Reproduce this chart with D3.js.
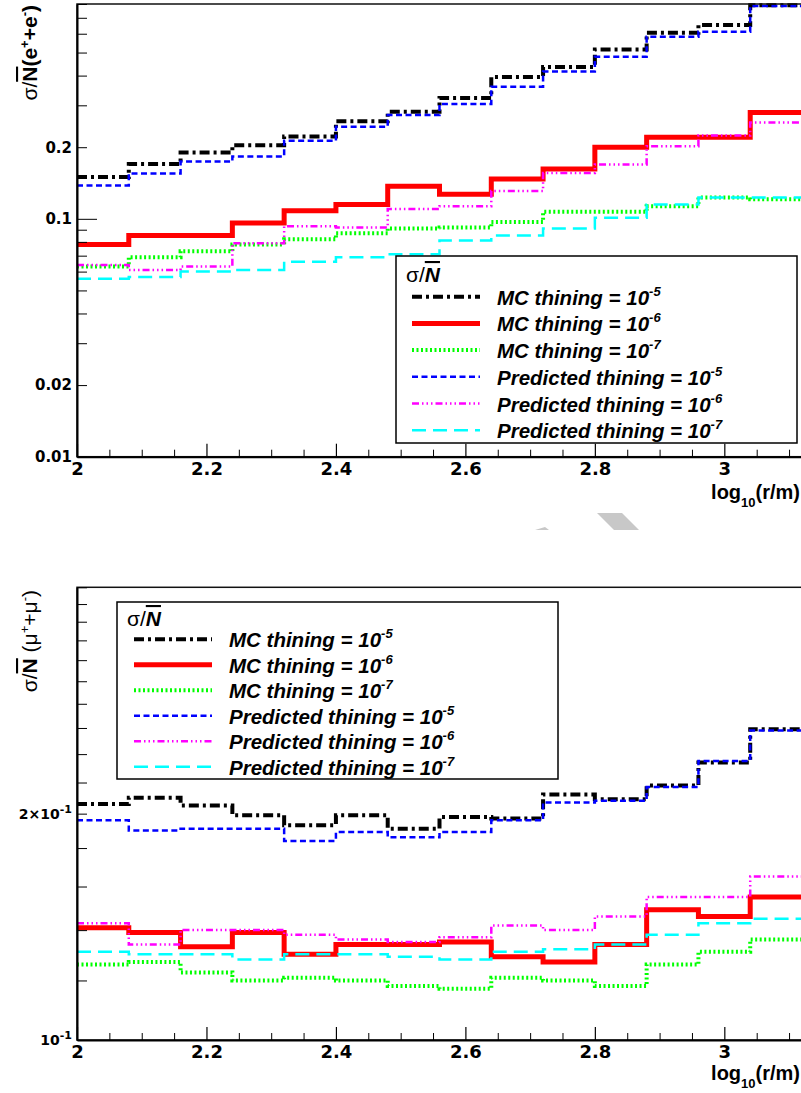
<!DOCTYPE html>
<html>
<head>
<meta charset="utf-8">
<script src="https://cdn.jsdelivr.net/npm/d3@7"></script>
<style>
body { margin: 0; background: #fff; }
svg { display: block; font-family: "Liberation Sans", Arial, Helvetica, sans-serif; }
</style>
</head>
<body>
<svg id="chart" width="801" height="1093"></svg>
<script>
// bin edges in log10(r/m)
const binEdges = [2, 2.08, 2.16, 2.24, 2.32, 2.4, 2.48, 2.56, 2.64, 2.72, 2.8, 2.88, 2.96, 3.04, 3.12];

// sigma/N for e+e- (top panel)
const eMC5   = [0.150, 0.170, 0.190, 0.204, 0.222, 0.257, 0.282, 0.322, 0.395, 0.435, 0.515, 0.605, 0.653, 0.790];
const eMC6   = [0.078, 0.085, 0.085, 0.096, 0.108, 0.115, 0.137, 0.127, 0.147, 0.162, 0.200, 0.220, 0.220, 0.280];
const eMC7   = [0.063, 0.069, 0.073, 0.078, 0.082, 0.087, 0.091, 0.092, 0.097, 0.107, 0.107, 0.113, 0.123, 0.121];
const ePred5 = [0.138, 0.155, 0.174, 0.183, 0.213, 0.244, 0.273, 0.304, 0.359, 0.416, 0.480, 0.582, 0.611, 0.785];
const ePred6 = [0.064, 0.061, 0.063, 0.079, 0.093, 0.092, 0.110, 0.113, 0.131, 0.156, 0.169, 0.202, 0.224, 0.254];
const ePred7 = [0.056, 0.057, 0.060, 0.061, 0.066, 0.069, 0.071, 0.081, 0.085, 0.091, 0.101, 0.115, 0.123, 0.123];

// sigma/N for mu+mu- (bottom panel)
const muMC5   = [0.206, 0.210, 0.205, 0.199, 0.193, 0.199, 0.191, 0.198, 0.197, 0.212, 0.209, 0.218, 0.234, 0.259];
const muMC6   = [0.141, 0.139, 0.133, 0.139, 0.130, 0.134, 0.134, 0.135, 0.129, 0.127, 0.134, 0.149, 0.146, 0.155];
const muMC7   = [0.126, 0.127, 0.123, 0.120, 0.121, 0.120, 0.118, 0.117, 0.121, 0.120, 0.118, 0.126, 0.131, 0.136];
const muPred5 = [0.196, 0.190, 0.191, 0.191, 0.184, 0.189, 0.186, 0.189, 0.196, 0.207, 0.208, 0.217, 0.235, 0.258];
const muPred6 = [0.143, 0.134, 0.140, 0.140, 0.138, 0.136, 0.135, 0.137, 0.142, 0.140, 0.146, 0.155, 0.155, 0.165];
const muPred7 = [0.131, 0.130, 0.130, 0.128, 0.130, 0.130, 0.129, 0.128, 0.131, 0.132, 0.134, 0.138, 0.143, 0.145];

const legendNames = ["MC thining = 10", "MC thining = 10", "MC thining = 10",
	"Predicted thining = 10", "Predicted thining = 10", "Predicted thining = 10"];
const legendExps = ["-5", "-6", "-7", "-5", "-6", "-7"];

const xTicks = [2, 2.2, 2.4, 2.6, 2.8, 3];
const eYTicks = [0.01, 0.02, 0.1, 0.2];
const muYTicks = [0.1, 0.2];
const muYTickBase = ["10", "2\u00d710"];

const styles = [
	{ color: "#000000", width: 4, dash: "10,4,3,4" },
	{ color: "#ff0000", width: 5, dash: null },
	{ color: "#00ff00", width: 4, dash: "2,2.5" },
	{ color: "#0000ff", width: 2.5, dash: "6,3.5" },
	{ color: "#ff00ff", width: 2.5, dash: "7,3,1.5,3,1.5,3,1.5,3" },
	{ color: "#00ffff", width: 2.5, dash: "14,7" },
];

const svg = d3.select("#chart");
const tickFont = "'DejaVu Sans', Verdana, sans-serif";

const x = d3.scaleLinear().domain([2, 3.12]).range([77, 802]);

function tickText(sel, size) {
	sel.style("font-family", tickFont)
		.style("font-weight", "bold")
		.style("font-size", size + "px")
		.attr("fill", "#000");
}

function drawPanel(p) {
	const y = d3.scaleLog().domain(p.yDomain).range([p.bottom, p.top]);
	const g = svg.append("g");

	const line = d3.line()
		.x(d => x(d[0]))
		.y(d => y(d[1]))
		.curve(d3.curveStepAfter);

	p.series.forEach((vals, i) => {
		const pts = binEdges.map((e, j) => [e, vals[Math.min(j, vals.length - 1)]]);
		g.append("path")
			.attr("d", line(pts))
			.attr("fill", "none")
			.attr("stroke", styles[i].color)
			.attr("stroke-width", styles[i].width)
			.attr("stroke-dasharray", styles[i].dash);
	});

	// frame
	g.append("rect")
		.attr("x", 77).attr("y", p.top)
		.attr("width", 725).attr("height", p.bottom - p.top)
		.attr("fill", "none").attr("stroke", "#111").attr("stroke-width", 1.5);

	// x axis
	const xMinor = d3.range(2.05, 3.12, 0.05).filter(v => !xTicks.some(t => Math.abs(t - v) < 1e-6));
	g.append("g")
		.attr("transform", `translate(0,${p.bottom})`)
		.call(d3.axisBottom(x).tickValues(xMinor).tickSizeInner(-7).tickSizeOuter(0).tickFormat(""))
		.call(a => a.select(".domain").remove());
	g.append("g")
		.attr("transform", `translate(0,${p.bottom})`)
		.call(d3.axisBottom(x).tickValues(xTicks).tickSizeInner(-13).tickSizeOuter(0)
			.tickPadding(p.xPad).tickFormat(d3.format("~g")))
		.call(a => a.select(".domain").attr("stroke-width", 2))
		.call(a => a.selectAll(".tick line").attr("stroke-width", 1.2))
		.call(a => tickText(a.selectAll("text"), 18));

	// y axis
	const yMinor = y.ticks().filter(v => !p.yTicks.some(t => Math.abs(t - v) < 1e-9));
	g.append("g")
		.attr("transform", "translate(77,0)")
		.call(d3.axisLeft(y).tickValues(yMinor).tickSizeInner(-10).tickSizeOuter(0).tickFormat(""))
		.call(a => a.select(".domain").remove());
	const yAx = g.append("g")
		.attr("transform", "translate(77,0)")
		.call(d3.axisLeft(y).tickValues(p.yTicks).tickSizeInner(-10).tickSizeOuter(0)
			.tickPadding(5).tickFormat(p.yFormat))
		.call(a => a.select(".domain").attr("stroke-width", 2))
		.call(a => a.selectAll(".tick line").filter(d => d === p.longTick).attr("x2", 20))
		.call(a => tickText(a.selectAll("text"), p.yFont));
	if (p.yExp) {
		yAx.selectAll(".tick text").each(function (d, i) {
			const t = d3.select(this).text("");
			t.append("tspan").text(muYTickBase[i]);
			t.append("tspan").attr("dy", -6).style("font-size", "11px").text(p.yExp);
		});
	}

	// y title
	const yt = g.append("text")
		.attr("transform", `translate(37,${p.titleTop}) rotate(-90)`)
		.attr("text-anchor", "end")
		.attr("font-size", 21)
		.attr("font-weight", "bold");
	yt.append("tspan").attr("font-weight", "normal").text("\u03c3/");
	yt.append("tspan").style("text-decoration", "overline").text("N");
	p.titleParts(yt);

	// x title
	const xt = g.append("text")
		.attr("x", 800).attr("y", p.bottom + p.xTitleOff)
		.attr("text-anchor", "end")
		.attr("font-size", 20).attr("font-weight", "bold");
	xt.append("tspan").text("log");
	xt.append("tspan").attr("dy", 8).attr("font-size", 13).text("10");
	xt.append("tspan").attr("dy", -8).text("(r/m)");

	// legend
	const L = p.legend;
	const lg = g.append("g");
	lg.append("rect")
		.attr("x", L.x).attr("y", L.y).attr("width", L.w).attr("height", L.h)
		.attr("fill", "#fff").attr("stroke", "#000").attr("stroke-width", 1.5);
	const hd = lg.append("text")
		.attr("x", L.x + 10).attr("y", L.headY)
		.attr("font-size", 21);
	hd.append("tspan").text("\u03c3/");
	hd.append("tspan").attr("font-weight", "bold").attr("font-style", "italic")
		.style("text-decoration", "overline").text("N");

	legendNames.forEach((name, i) => {
		const cy = L.row0 + i * L.step;
		lg.append("line")
			.attr("x1", L.lx1).attr("x2", L.lx2).attr("y1", cy).attr("y2", cy)
			.attr("stroke", styles[i].color)
			.attr("stroke-width", styles[i].width)
			.attr("stroke-dasharray", styles[i].dash);
		const t = lg.append("text")
			.attr("x", L.tx).attr("y", cy + 8)
			.attr("font-size", 20.5).attr("font-weight", "bold").attr("font-style", "italic");
		t.append("tspan").text(name);
		t.append("tspan").attr("dy", -9).attr("font-size", 13).text(legendExps[i]);
	});
}

drawPanel({
	top: 4, bottom: 456.7, yDomain: [0.01, 0.8],
	series: [eMC5, eMC6, eMC7, ePred5, ePred6, ePred7],
	yTicks: eYTicks, yFormat: d3.format("~g"), yFont: 15, longTick: 0.1,
	xPad: 6, xTitleOff: 42, titleTop: 5,
	titleParts: t => {
		t.append("tspan").text("(e");
		t.append("tspan").attr("dy", -8).attr("font-size", 13).text("+");
		t.append("tspan").attr("dy", 8).text("+e");
		t.append("tspan").attr("dy", -8).attr("font-size", 13).text("-");
		t.append("tspan").attr("dy", 8).text(")");
	},
	legend: { x: 396, y: 256, w: 401, h: 187, headY: 282, row0: 296.7, step: 26.7, lx1: 412, lx2: 480, tx: 497 },
});

drawPanel({
	top: 587.3, bottom: 1040, yDomain: [0.1, 0.4],
	series: [muMC5, muMC6, muMC7, muPred5, muPred6, muPred7],
	yTicks: muYTicks, yFormat: d3.format("~g"), yFont: 14, yExp: "-1", longTick: null,
	xPad: 5, xTitleOff: 40, titleTop: 590,
	titleParts: t => {
		const n = t.append("tspan").attr("font-weight", "normal");
		n.append("tspan").text(" (\u03bc");
		n.append("tspan").attr("dy", -8).attr("font-size", 13).text("+");
		n.append("tspan").attr("dy", 8).text("+\u03bc");
		n.append("tspan").attr("dy", -8).attr("font-size", 13).text("-");
		n.append("tspan").attr("dy", 8).text(")");
	},
	legend: { x: 117, y: 602, w: 441, h: 177, headY: 626, row0: 639.3, step: 25.5, lx1: 134, lx2: 212, tx: 229 },
});

// faint grey scan mark between the panels
svg.append("path")
	.attr("d", "M597,513 L622,513 L639,530 L614,530 Z M535,530 L545,527 L549,530 Z")
	.attr("fill", "#c8c8c8");
</script>
</body>
</html>
